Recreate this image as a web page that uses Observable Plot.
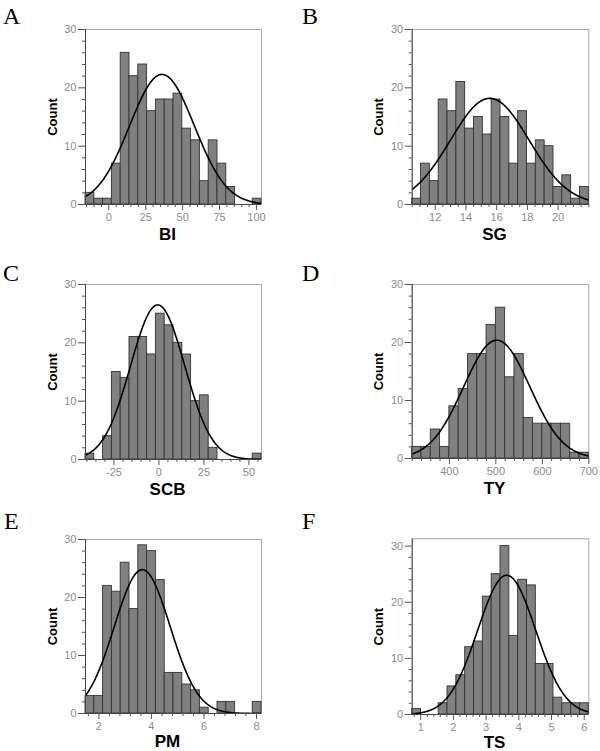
<!DOCTYPE html>
<html>
<head>
<meta charset="utf-8">
<script src="https://cdn.jsdelivr.net/npm/d3@7"></script>
<script src="https://cdn.jsdelivr.net/npm/@observablehq/plot@0.6"></script>
<style>
  html, body { margin: 0; padding: 0; background: #fff; }
  #root { position: relative; width: 600px; height: 751px; overflow: hidden; background: #fff; }
  .panel { position: absolute; }
  .letter { position: absolute; font-family: "Liberation Serif", "Times New Roman", serif; font-size: 24px; line-height: 1; color: #000; }
</style>
</head>
<body>
<div id="root"></div>
<script>
// ---- data ----
const letters = ["A", "B", "C", "D", "E", "F"];
const varNames = ["BI", "SG", "SCB", "TY", "PM", "TS"];
const binLo = [-15.8, 10.5, -40.8, 320, 1.49, 0.74];
const binHi = [103.4, 22.0, 57.0, 700, 8.19, 6.14];
const countsBI  = [2, 1, 1, 7, 26, 22, 24, 16, 18, 18, 19, 13, 11, 4, 11, 7, 3, 0, 0, 1];
const countsSG  = [1, 7, 4, 18, 16, 21, 13, 15, 12, 18, 15, 7, 16, 7, 11, 10, 3, 5, 1, 3];
const countsSCB = [1, 0, 4, 15, 14, 21, 21, 18, 25, 23, 20, 18, 10, 11, 2, 0, 0, 0, 0, 1];
const countsTY  = [2, 2, 5, 2, 9, 12, 18, 18, 23, 26, 14, 18, 7, 6, 6, 6, 6, 1, 1];
const countsPM  = [3, 3, 22, 21, 26, 18, 29, 28, 23, 7, 7, 5, 4, 1, 0, 2, 2, 0, 0, 2];
const countsTS  = [1, 0, 0, 2, 5, 7, 12, 13, 21, 25, 30, 14, 24, 23, 9, 9, 3, 2, 2, 2];
const xTicksBI  = [0, 25, 50, 75, 100];
const xTicksSG  = [12, 14, 16, 18, 20];
const xTicksSCB = [-25, 0, 25, 50];
const xTicksTY  = [400, 500, 600, 700];
const xTicksPM  = [2, 4, 6, 8];
const xTicksTS  = [1, 2, 3, 4, 5, 6];
const xMinorStep = [5, 0.5, 5, 20, 0.4, 0.2];
const yTicks = [0, 10, 20, 30];
const yMinorStep = 2;
const yMax = [30, 30, 30, 30, 30, 31.3];
// fitted normal curve parameters (mean, sd, peak height in counts)
const fitMean = [36, 15.55, -0.7, 502, 3.65, 3.63];
const fitSd   = [21.9, 2.56, 15.05, 71.2, 1.06, 0.886];
const fitPeak = [22.3, 18.2, 26.5, 20.4, 24.8, 24.8];

const allCounts = [countsBI, countsSG, countsSCB, countsTY, countsPM, countsTS];
const allXTicks = [xTicksBI, xTicksSG, xTicksSCB, xTicksTY, xTicksPM, xTicksTS];

// ---- layout (page pixels) ----
const layout = [
  {left: 0,   top: 0,   height: 255, mL: 85,    mR: 39,   mT: 29,   mB: 51, ldy: 30},
  {left: 300, top: 0,   height: 255, mL: 111.7, mR: 11.7, mT: 29,   mB: 51, ldy: 30},
  {left: 0,   top: 255, height: 250, mL: 85,    mR: 39,   mT: 29,   mB: 46, ldy: 30},
  {left: 300, top: 255, height: 250, mL: 111.7, mR: 11.7, mT: 29,   mB: 47, ldy: 30},
  {left: 0,   top: 505, height: 246, mL: 85,    mR: 39,   mT: 34,   mB: 38, ldy: 28},
  {left: 300, top: 505, height: 246, mL: 111.7, mR: 11.7, mT: 33.3, mB: 37, ldy: 28}
];
const letterPos = [[3, 4], [302, 4], [3, 261], [302, 261], [4, 509], [302, 509]];

const root = document.getElementById("root");
const fmt = d => String(d);

letters.forEach((L, k) => {
  const lo = binLo[k], hi = binHi[k];
  const counts = allCounts[k];
  const w = (hi - lo) / counts.length;
  const bins = counts.map((c, i) => ({x1: lo + i * w, x2: lo + (i + 1) * w, count: c}));
  const n = 240;
  const curve = d3.range(n + 1).map(i => {
    const x = lo + (hi - lo) * i / n;
    const z = (x - fitMean[k]) / fitSd[k];
    return {x, y: fitPeak[k] * Math.exp(-0.5 * z * z)};
  });
  const xs = xMinorStep[k];
  const xMinor = d3.range(Math.ceil(lo / xs) * xs, hi + 1e-9, xs).map(v => +v.toFixed(6))
    .filter(v => !allXTicks[k].some(t => Math.abs(t - v) < 1e-6));
  const yMinor = d3.range(0, yMax[k] + 1e-9, yMinorStep).filter(v => !yTicks.includes(v));
  const g = layout[k];

  const chart = Plot.plot({
    width: 300,
    height: g.height,
    marginLeft: g.mL, marginRight: g.mR, marginTop: g.mT, marginBottom: g.mB,
    style: {fontFamily: "'Liberation Sans', Arial, sans-serif", fontSize: "11px", background: "white", overflow: "visible"},
    x: {domain: [lo, hi]},
    y: {domain: [0, yMax[k]]},
    marks: [
      Plot.frame({stroke: "#a8a8a8"}),
      Plot.rectY(bins, {x1: "x1", x2: "x2", y: "count", fill: "#808080", stroke: "#333", strokeWidth: 0.9}),
      Plot.line(curve, {x: "x", y: "y", stroke: "#000", strokeWidth: 1.6, clip: true}),
      Plot.ruleX([lo], {stroke: "#444"}),
      Plot.ruleY([0], {stroke: "#444"}),
      Plot.axisY({ticks: yTicks, tickSize: 7, tickPadding: 2, stroke: "#555", fill: "#8c8c8c", label: null, fontSize: 11, tickFormat: fmt}),
      Plot.axisY({ticks: yMinor, tickSize: 3, stroke: "#555", fill: "none", label: null}),
      Plot.axisX({ticks: allXTicks[k], tickSize: 6, tickPadding: 3, stroke: "#555", fill: "#8c8c8c", label: null, fontSize: 11, tickFormat: fmt}),
      Plot.axisX({ticks: xMinor, tickSize: 3, stroke: "#555", fill: "none", label: null}),
      Plot.text(["Count"], {frameAnchor: "left", dx: -33, rotate: -90, fontWeight: "bold", fontSize: 13, fill: "#000", lineAnchor: "middle", textAnchor: "middle"}),
      Plot.text([varNames[k]], {frameAnchor: "bottom", dy: g.ldy, dx: -6, fontWeight: "bold", fontSize: 17, fill: "#000", lineAnchor: "middle", textAnchor: "middle"})
    ]
  });
  const div = document.createElement("div");
  div.className = "panel";
  div.style.left = g.left + "px";
  div.style.top = g.top + "px";
  div.appendChild(chart);
  root.appendChild(div);

  const lt = document.createElement("div");
  lt.className = "letter";
  lt.textContent = L;
  lt.style.left = letterPos[k][0] + "px";
  lt.style.top = letterPos[k][1] + "px";
  root.appendChild(lt);
});
</script>
</body>
</html>
